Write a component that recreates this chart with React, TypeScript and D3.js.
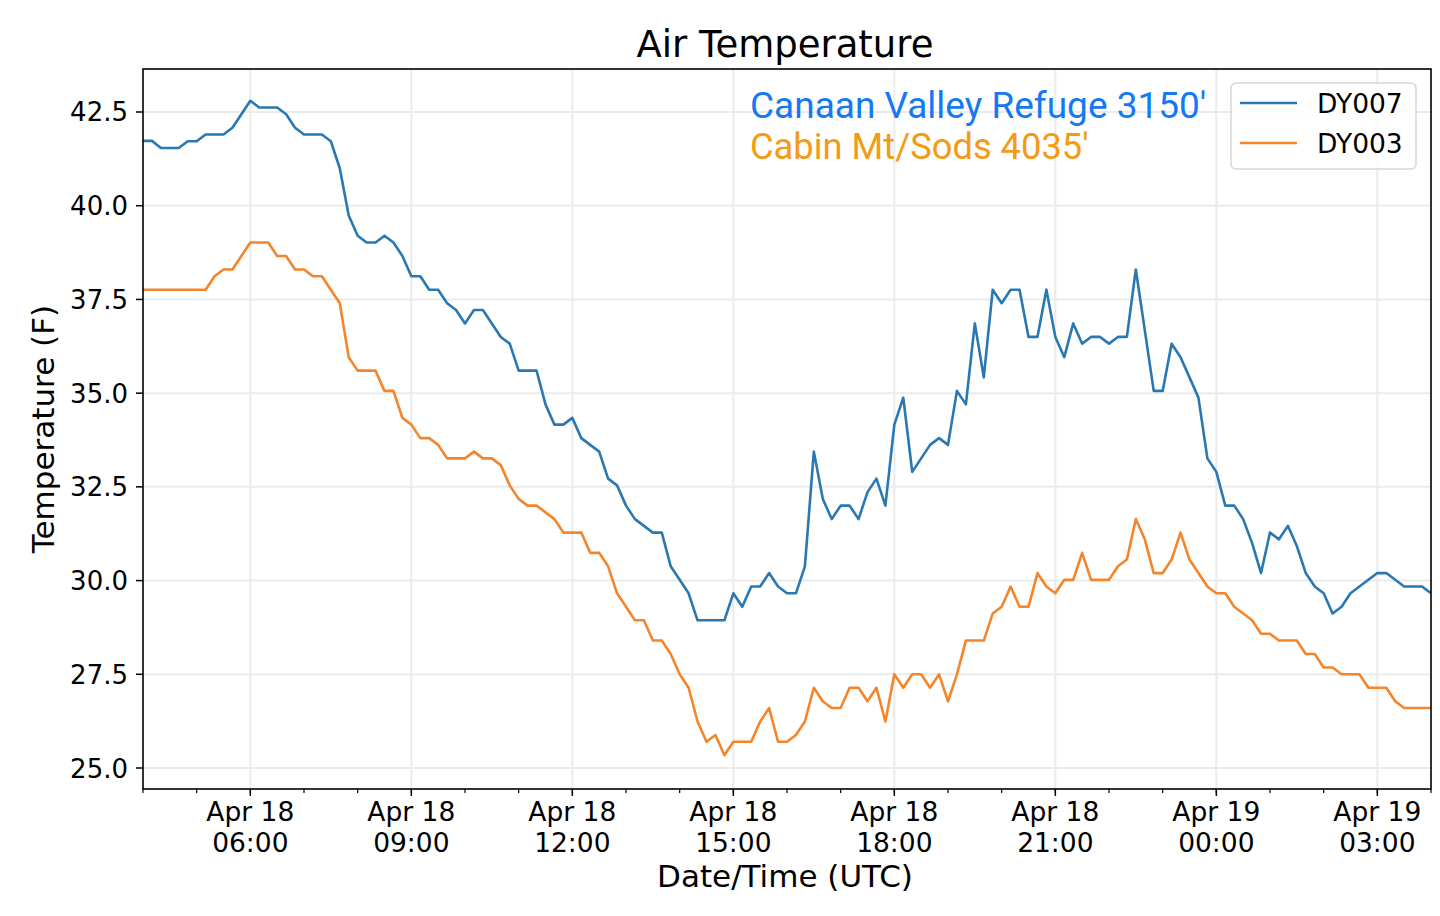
import React, { useEffect, useRef } from 'react';
import * as d3 from 'd3';

// 10-minute readings, Apr 18 04:00 UTC -> Apr 19 04:00 UTC
const START = Date.UTC(2019, 3, 18, 4, 0);
const STEP_MIN = 10;

const DY007 = [
  41.73, 41.73, 41.54, 41.54, 41.54, 41.72, 41.72, 41.90, 41.90, 41.90,
  42.08, 42.44, 42.80, 42.62, 42.62, 42.62, 42.44, 42.08, 41.90, 41.90,
  41.90, 41.72, 41.00, 39.74, 39.20, 39.02, 39.02, 39.20, 39.02, 38.66,
  38.12, 38.12, 37.76, 37.76, 37.40, 37.22, 36.86, 37.22, 37.22, 36.86,
  36.50, 36.32, 35.60, 35.60, 35.60, 34.70, 34.16, 34.16, 34.34, 33.80,
  33.62, 33.44, 32.72, 32.54, 32.00, 31.64, 31.46, 31.28, 31.28, 30.38,
  30.02, 29.66, 28.94, 28.94, 28.94, 28.94, 29.66, 29.30, 29.84, 29.84,
  30.20, 29.84, 29.66, 29.66, 30.38, 33.44, 32.18, 31.64, 32.00, 32.00,
  31.64, 32.36, 32.72, 32.00, 34.16, 34.88, 32.90, 33.26, 33.62, 33.80,
  33.62, 35.06, 34.70, 36.86, 35.42, 37.76, 37.40, 37.76, 37.76, 36.50,
  36.50, 37.76, 36.50, 35.96, 36.86, 36.32, 36.50, 36.50, 36.32, 36.50,
  36.50, 38.30, 36.68, 35.06, 35.06, 36.32, 35.96, 35.42, 34.88, 33.26,
  32.90, 32.00, 32.00, 31.64, 31.00, 30.20, 31.28, 31.10, 31.46, 30.92,
  30.20, 29.84, 29.66, 29.12, 29.30, 29.66, 29.84, 30.02, 30.20, 30.20,
  30.02, 29.84, 29.84, 29.84, 29.66,
];

const DY003 = [
  37.76, 37.76, 37.76, 37.76, 37.76, 37.76, 37.76, 37.76, 38.12, 38.30,
  38.30, 38.66, 39.02, 39.02, 39.02, 38.66, 38.66, 38.30, 38.30, 38.12,
  38.12, 37.76, 37.40, 35.96, 35.60, 35.60, 35.60, 35.06, 35.06, 34.34,
  34.16, 33.80, 33.80, 33.62, 33.26, 33.26, 33.26, 33.44, 33.26, 33.26,
  33.08, 32.54, 32.18, 32.00, 32.00, 31.82, 31.64, 31.28, 31.28, 31.28,
  30.74, 30.74, 30.38, 29.66, 29.30, 28.94, 28.94, 28.40, 28.40, 28.04,
  27.50, 27.14, 26.24, 25.70, 25.88, 25.34, 25.70, 25.70, 25.70, 26.24,
  26.60, 25.70, 25.70, 25.88, 26.24, 27.14, 26.78, 26.60, 26.60, 27.14,
  27.14, 26.78, 27.14, 26.24, 27.50, 27.14, 27.50, 27.50, 27.14, 27.50,
  26.78, 27.50, 28.40, 28.40, 28.40, 29.12, 29.30, 29.84, 29.30, 29.30,
  30.20, 29.84, 29.66, 30.02, 30.02, 30.74, 30.02, 30.02, 30.02, 30.38,
  30.56, 31.64, 31.10, 30.20, 30.20, 30.56, 31.28, 30.56, 30.20, 29.84,
  29.66, 29.66, 29.30, 29.12, 28.94, 28.58, 28.58, 28.40, 28.40, 28.40,
  28.04, 28.04, 27.68, 27.68, 27.50, 27.50, 27.50, 27.14, 27.14, 27.14,
  26.78, 26.60, 26.60, 26.60, 26.60,
];

const Y_TICKS = [25, 27.5, 30, 32.5, 35, 37.5, 40, 42.5];
const SERIES = [
  { name: 'DY007', values: DY007, color: '#2a78b2' },
  { name: 'DY003', values: DY003, color: '#f5852a' },
];
const SITES = [
  { label: "Canaan Valley Refuge 3150'", color: '#1479f2' },
  { label: "Cabin Mt/Sods 4035'", color: '#f59a14' },
];

const FONT = '"DejaVu Sans", sans-serif';

export default function App() {
  const svgRef = useRef<SVGSVGElement>(null);

  useEffect(() => {
    if (!svgRef.current) return;
    const svg = d3.select(svgRef.current);
    svg.selectAll('*').remove();

    const left = 143, right = 1431, top = 69, bottom = 789;

    const x = d3.scaleUtc()
      .domain([new Date(START), new Date(START + 24 * 3600 * 1000)])
      .range([left, right]);
    const y = d3.scaleLinear().domain([24.44, 43.647]).range([bottom, top]);

    const t = (i: number) => new Date(START + i * STEP_MIN * 60 * 1000);

    // grid
    const majorX = x.ticks(d3.utcHour.every(3)!);
    const minorX = x.ticks(d3.utcHour.every(1)!);
    svg.append('g').selectAll('line').data(majorX).enter().append('line')
      .attr('x1', d => x(d)).attr('x2', d => x(d))
      .attr('y1', top).attr('y2', bottom)
      .attr('stroke', '#ebebeb').attr('stroke-width', 2);
    svg.append('g').selectAll('line').data(Y_TICKS).enter().append('line')
      .attr('x1', left).attr('x2', right)
      .attr('y1', d => y(d)).attr('y2', d => y(d))
      .attr('stroke', '#ebebeb').attr('stroke-width', 2);

    // lines
    const line = d3.line<number>()
      .x((_, i) => x(t(i)))
      .y(d => y(d));
    SERIES.forEach(s => {
      svg.append('path')
        .attr('d', line(s.values))
        .attr('fill', 'none')
        .attr('stroke', s.color)
        .attr('stroke-width', 2.6)
        .attr('stroke-linejoin', 'round');
    });

    // frame
    svg.append('rect')
      .attr('x', left).attr('y', top)
      .attr('width', right - left).attr('height', bottom - top)
      .attr('fill', 'none').attr('stroke', '#000').attr('stroke-width', 1.6);

    // y ticks
    const yg = svg.append('g');
    Y_TICKS.forEach(v => {
      yg.append('line')
        .attr('x1', left - 7).attr('x2', left)
        .attr('y1', y(v)).attr('y2', y(v))
        .attr('stroke', '#000').attr('stroke-width', 1.5);
      yg.append('text')
        .attr('x', left - 15).attr('y', y(v) + 9.5)
        .attr('text-anchor', 'end')
        .attr('font-family', FONT).attr('font-size', 26)
        .text(d3.format('.1f')(v));
    });

    // x ticks
    const xg = svg.append('g');
    minorX.forEach(d => {
      xg.append('line')
        .attr('x1', x(d)).attr('x2', x(d))
        .attr('y1', bottom).attr('y2', bottom + 4)
        .attr('stroke', '#000').attr('stroke-width', 1.2);
    });
    const fmtDay = d3.utcFormat('%b %d');
    const fmtHour = d3.utcFormat('%H:%M');
    majorX.forEach(d => {
      xg.append('line')
        .attr('x1', x(d)).attr('x2', x(d))
        .attr('y1', bottom).attr('y2', bottom + 7)
        .attr('stroke', '#000').attr('stroke-width', 1.5);
      const txt = xg.append('text')
        .attr('text-anchor', 'middle')
        .attr('font-family', FONT).attr('font-size', 26.5);
      txt.append('tspan').attr('x', x(d)).attr('y', 821).text(fmtDay(d));
      txt.append('tspan').attr('x', x(d)).attr('y', 852).text(fmtHour(d));
    });

    // titles
    svg.append('text')
      .attr('x', (left + right) / 2 - 2).attr('y', 57)
      .attr('text-anchor', 'middle')
      .attr('font-family', FONT).attr('font-size', 37)
      .text('Air Temperature');
    svg.append('text')
      .attr('x', (left + right) / 2 - 2).attr('y', 887)
      .attr('text-anchor', 'middle')
      .attr('font-family', FONT).attr('font-size', 31)
      .text('Date/Time (UTC)');
    svg.append('text')
      .attr('transform', `translate(54,${(top + bottom) / 2}) rotate(-90)`)
      .attr('text-anchor', 'middle')
      .attr('font-family', FONT).attr('font-size', 31)
      .text('Temperature (F)');

    // site annotations
    SITES.forEach((s, i) => {
      svg.append('text')
        .attr('x', 750).attr('y', 118 + i * 40.5)
        .attr('font-family', 'Roboto, sans-serif').attr('font-size', i === 0 ? 37 : 36.3)
        .attr('fill', s.color)
        .text(s.label);
    });

    // legend
    const lg = svg.append('g');
    lg.append('rect')
      .attr('x', 1231).attr('y', 83).attr('width', 185).attr('height', 86)
      .attr('rx', 5)
      .attr('fill', '#fff').attr('fill-opacity', 0.85)
      .attr('stroke', '#d6d6d6').attr('stroke-width', 1.5);
    SERIES.forEach((s, i) => {
      const ly = 103 + i * 40;
      lg.append('line')
        .attr('x1', 1240).attr('x2', 1297)
        .attr('y1', ly).attr('y2', ly)
        .attr('stroke', s.color).attr('stroke-width', 2.6);
      lg.append('text')
        .attr('x', 1317).attr('y', ly + 10)
        .attr('font-family', FONT).attr('font-size', 26.5)
        .text(s.name);
    });
  }, []);

  return (
    <svg
      ref={svgRef}
      width={1440}
      height={916}
      style={{ position: 'absolute', left: 0, top: 0, background: '#fff' }}
    />
  );
}
